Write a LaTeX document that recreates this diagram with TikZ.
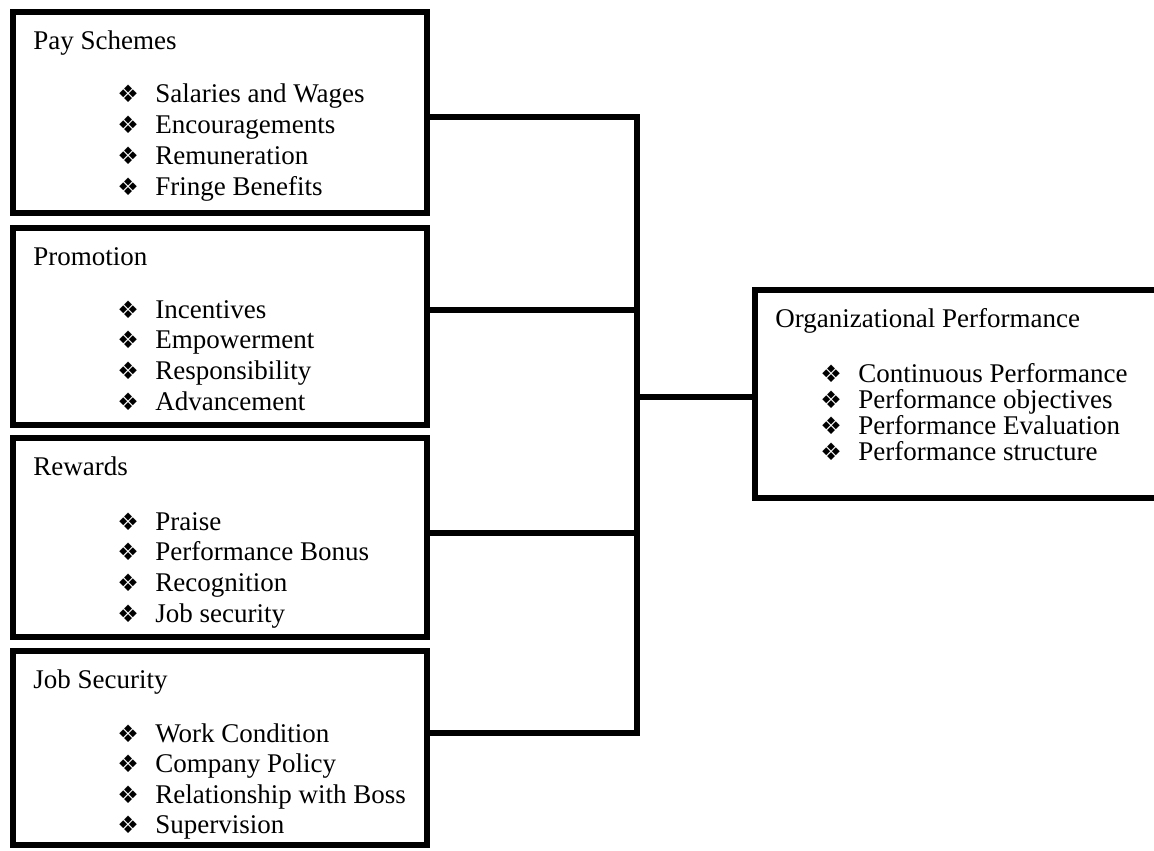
\documentclass[tikz,border=0pt]{standalone}
\usepackage{fontspec}
\setmainfont{Liberation Serif}
\newfontfamily\dingfont{DejaVu Sans}
\usetikzlibrary{positioning}
\tikzset{
  factor/.style={draw, line width=3pt, minimum width=207.25pt, inner sep=0pt, outer sep=0pt},
  link/.style={line width=3pt, line join=miter},
  factorhead/.style={anchor=base west, inner sep=0pt, font=\fontsize{13.5}{15}\selectfont},
  factoritem/.style={anchor=base west, inner sep=0pt, font=\fontsize{13.5}{15}\selectfont}
}
\newcommand{\bul}{\makebox[19pt][l]{\raisebox{0pt}{\dingfont\fontsize{12}{12}\selectfont ❖}}}

\begin{document}
\begin{tikzpicture}[x=0.5pt,y=-0.5pt]
  \clip (0,0) rectangle (1154,850);

  %% the four factor boxes
  \node[factor, minimum height=100.5pt] (pay)    at (219.75,112.5) {};
  \node[factor, minimum height=98.5pt]  (promo)  at (219.75,326.5) {};
  \node[factor, minimum height=99.5pt]  (reward) at (219.75,537.5) {};
  \node[factor, minimum height=97pt]    (jobsec) at (219.75,748)   {};
  %% outcome box
  \node[factor, minimum width=202.5pt, minimum height=104pt] (orgperf) at (957.5,394) {};

  %% headings
  \node[factorhead] (pay-h)    at (33,50)  {Pay Schemes};
  \node[factorhead] (promo-h)  at (33,265) {Promotion};
  \node[factorhead] (reward-h) at (33,475) {Rewards};
  \node[factorhead] (jobsec-h) at (33,688) {Job Security};
  \node[factorhead] (orgperf-h) at (775,327) {Organizational Performance};

  %% bullet lists
  \foreach \t [count=\i from 0] in {Salaries and Wages, Encouragements, Remuneration, Fringe Benefits}
    \node[factoritem] (pay-\i) at (117,{103+30.7*\i}) {\bul\t};
  \foreach \t [count=\i from 0] in {Incentives, Empowerment, Responsibility, Advancement}
    \node[factoritem] (promo-\i) at (117,{318+30.7*\i}) {\bul\t};
  \foreach \t [count=\i from 0] in {Praise, Performance Bonus, Recognition, Job security}
    \node[factoritem] (reward-\i) at (117,{530+30.7*\i}) {\bul\t};
  \foreach \t [count=\i from 0] in {Work Condition, Company Policy, Relationship with Boss, Supervision}
    \node[factoritem] (jobsec-\i) at (117,{742+30.5*\i}) {\bul\t};
  \foreach \t [count=\i from 0] in {Continuous Performance, Performance objectives, Performance Evaluation, Performance structure}
    \node[factoritem] (orgperf-\i) at (820,{382+26*\i}) {\bul\t};

  %% bus between the boxes
  \coordinate (j1) at (637,117);
  \coordinate (j2) at (637,310);
  \coordinate (j3) at (637,533);
  \coordinate (j4) at (637,733);
  \coordinate (jm) at (637,397);

  \draw[link] (pay.east |- j1) -- (j1) -- (j4) -- (jobsec.east |- j4);
  \draw[link] (promo.east |- j2) -- (j2);
  \draw[link] (reward.east |- j3) -- (j3);
  \draw[link] (jm) -- (orgperf.west |- jm);

\end{tikzpicture}
\end{document}
